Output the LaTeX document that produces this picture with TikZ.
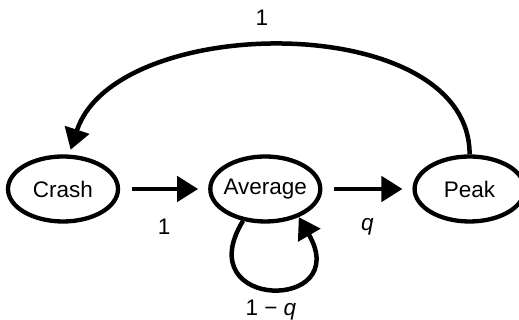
\documentclass[tikz,border=0pt]{standalone}
\usepackage{fontspec}
\setmainfont{Liberation Sans}
\usetikzlibrary{arrows.meta,positioning,shapes.geometric}

\begin{document}
\begin{tikzpicture}[x=1pt,y=1pt,font=\fontsize{22.5}{26}\selectfont,
      state/.style={draw,ellipse,line width=4.3pt,inner xsep=-4pt,inner ysep=0pt,minimum width=110pt,minimum height=65pt},
      arr/.style={-{Triangle[length=21pt,width=25pt]},line width=4.5pt}]
    \useasboundingbox (0,0) rectangle (519,320);
    \node[state] (crash) at (63,131) {Crash};
    \node[state,right=88pt of crash] (avg) {Average};
    \node[state,right=90pt of avg] (peak) {Peak};
    \draw[arr,shorten <=12pt,shorten >=10pt] (crash) -- node[below=24pt] {1} (avg);
    \draw[arr,shorten <=12pt,shorten >=10pt] (avg) -- node[below=24pt] {\textit{q}} (peak);
    \draw[arr] (avg.235) .. controls +(-55,-90) and +(55,-95) .. (avg.-40)
      node[pos=0.5,below=6pt] {1 − \textit{q}};
    \draw[arr,shorten >=5pt] (peak.north) .. controls +(0,145) and +(72:150) .. (crash.80);
    \node (back) at (262,302) {1};
\end{tikzpicture}
\end{document}
